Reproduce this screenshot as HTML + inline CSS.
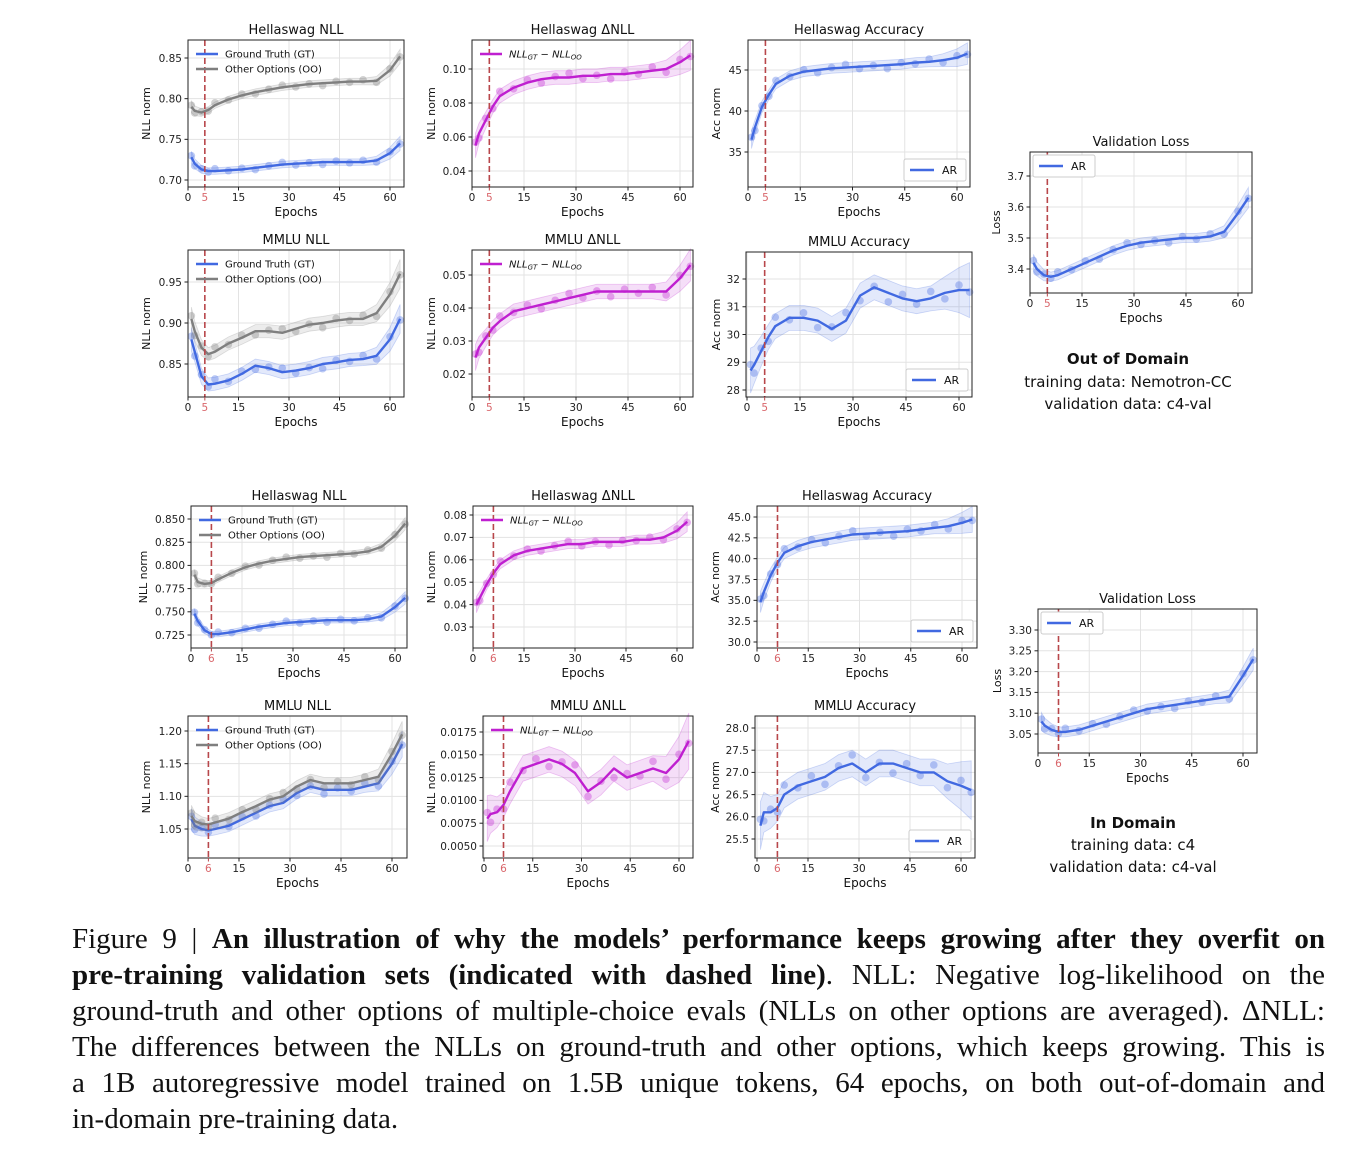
<!DOCTYPE html>
<html><head><meta charset="utf-8">
<style>
html,body{margin:0;padding:0;background:#fff;}
body{width:1352px;height:1156px;position:relative;overflow:hidden;font-family:"DejaVu Sans","Liberation Sans",sans-serif;}
#fig{position:absolute;left:0;top:0;}
.cap{position:absolute;left:72px;width:1253px;font-family:"Liberation Serif",serif;font-size:29px;line-height:36px;color:#111;text-align:justify;text-align-last:justify;white-space:nowrap;}
.cap.last{text-align-last:left;}
</style></head>
<body>
<svg id="fig" width="1352" height="900" xmlns="http://www.w3.org/2000/svg"></svg>
<div class="cap" style="top:921px">Figure 9 | <b>An illustration of why the models’ performance keeps growing after they overfit on</b></div>
<div class="cap" style="top:957px"><b>pre-training validation sets (indicated with dashed line)</b>. NLL: Negative log-likelihood on the</div>
<div class="cap" style="top:993px">ground-truth and other options of multiple-choice evals (NLLs on other options are averaged). ΔNLL:</div>
<div class="cap" style="top:1029px">The differences between the NLLs on ground-truth and other options, which keeps growing. This is</div>
<div class="cap" style="top:1065px">a 1B autoregressive model trained on 1.5B unique tokens, 64 epochs, on both out-of-domain and</div>
<div class="cap last" style="top:1101px">in-domain pre-training data.</div>
<script>
// ---- shared data ----
const epochs = [1,2,4,6,8,12,16,20,24,28,32,36,40,44,48,52,56,60,63];
const jitter = [0.6,-0.8,0.3,-0.4,0.9,-0.2,0.5,-0.7,0.2,0.8,-0.5,0.1,-0.9,0.4,-0.3,0.7,-0.6,0.5,-0.2];
const bandShape = [1.8,1.5,1.2,1,1,1,1,1,1,1,1,1,1,1,1,1,1.3,1.8,2.2];
const xTicks = [0,15,30,45,60];

// ---- out of domain ----
const oodHsNllGT = [.728,.72,.713,.711,.711,.712,.713,.715,.717,.719,.72,.721,.722,.722,.722,.722,.724,.733,.745];
const oodHsNllOO = [.79,.785,.783,.786,.792,.799,.804,.808,.811,.814,.816,.818,.819,.82,.821,.821,.822,.835,.852];
const oodHsNllTicks = [0.85,0.80,0.75,0.70];
const oodHsDelta = [.055,.062,.07,.078,.084,.089,.092,.094,.095,.095,.096,.096,.097,.097,.098,.099,.1,.104,.108];
const oodHsDeltaTicks = [0.10,0.08,0.06,0.04];
const oodHsAcc = [36.5,38,40.5,42,43.3,44.3,44.8,45,45.2,45.3,45.4,45.5,45.6,45.7,45.9,46,46.2,46.5,47];
const oodHsAccTicks = [45,40,35];
const oodVal = [3.42,3.40,3.38,3.375,3.38,3.40,3.42,3.44,3.46,3.475,3.485,3.49,3.495,3.5,3.5,3.505,3.52,3.58,3.63];
const oodValTicks = [3.7,3.6,3.5,3.4];
const oodMmNllGT = [.88,.865,.835,.825,.826,.83,.838,.848,.845,.84,.842,.845,.85,.852,.855,.856,.86,.88,.905];
const oodMmNllOO = [.905,.89,.87,.862,.865,.875,.882,.89,.89,.888,.893,.898,.9,.903,.905,.905,.912,.935,.96];
const oodMmNllTicks = [0.95,0.90,0.85];
const oodMmDelta = [.025,.028,.031,.034,.036,.039,.040,.041,.042,.043,.044,.045,.045,.045,.045,.045,.045,.049,.053];
const oodMmDeltaTicks = [0.05,0.04,0.03,0.02];
const oodMmAcc = [28.7,28.9,29.4,29.9,30.3,30.6,30.6,30.5,30.2,30.5,31.4,31.7,31.5,31.3,31.2,31.3,31.5,31.6,31.6];
const oodMmAccTicks = [32,31,30,29,28];

// ---- in domain ----
const idHsNllGT = [.748,.74,.73,.726,.726,.728,.731,.734,.736,.738,.739,.74,.741,.741,.741,.742,.745,.755,.765];
const idHsNllOO = [.79,.782,.78,.781,.785,.792,.798,.802,.805,.807,.809,.81,.811,.812,.813,.815,.82,.832,.845];
const idHsNllTicks = [0.850,0.825,0.800,0.775,0.750,0.725];
const idHsDelta = [.04,.043,.049,.054,.058,.062,.064,.065,.066,.067,.067,.068,.068,.068,.069,.069,.07,.073,.077];
const idHsDeltaTicks = [0.08,0.07,0.06,0.05,0.04,0.03];
const idHsAcc = [34.8,36,38,39.5,40.7,41.5,42,42.3,42.6,42.9,43,43.1,43.2,43.3,43.5,43.7,43.9,44.3,44.7];
const idHsAccTicks = [45.0,42.5,40.0,37.5,35.0,32.5,30.0];
const idVal = [3.08,3.07,3.06,3.055,3.055,3.06,3.07,3.08,3.09,3.10,3.11,3.115,3.12,3.125,3.13,3.135,3.14,3.19,3.23];
const idValTicks = [3.30,3.25,3.20,3.15,3.10,3.05];
const idMmNllGT = [1.065,1.055,1.05,1.048,1.05,1.055,1.065,1.075,1.085,1.09,1.105,1.115,1.11,1.11,1.11,1.115,1.12,1.15,1.18];
const idMmNllOO = [1.07,1.062,1.058,1.057,1.06,1.066,1.076,1.085,1.095,1.1,1.115,1.125,1.12,1.12,1.12,1.125,1.13,1.165,1.195];
const idMmNllTicks = [1.20,1.15,1.10,1.05];
const idMmDelta = [.008,.0085,.0087,.0095,.011,.0135,.014,.0145,.014,.013,.011,.012,.0135,.0125,.013,.0135,.013,.0145,.0165];
const idMmDeltaTicks = [0.0175,0.0150,0.0125,0.0100,0.0075,0.0050];
const idMmAcc = [25.8,26.1,26.1,26.2,26.5,26.7,26.8,26.9,27.1,27.2,27.0,27.2,27.2,27.1,27.0,27.0,26.8,26.7,26.6];
const idMmAccTicks = [28.0,27.5,27.0,26.5,26.0,25.5];

const NS = "http://www.w3.org/2000/svg";
const svg = document.getElementById('fig');
function mk(tag, attrs, parent){
  const e = document.createElementNS(NS, tag);
  for (const k in attrs) e.setAttribute(k, attrs[k]);
  (parent||svg).appendChild(e);
  return e;
}
const BLUE='#4169e1', GRAY='#7f7f7f', MAG='#bf1fd0', DASH='#b8474b';

function chart(c){
  const g = mk('g', {});
  
  
  const X = e => c.px0 + (c.px60 - c.px0) * e / 60;
  const Y = v => c.t0p + (c.t1p - c.t0p) * (v - c.t0v) / (c.t1v - c.t0v);
  xTicks.forEach(t => {
    const gl = mk('line', {x1:X(t), x2:X(t), y1:c.top, y2:c.bot, stroke:'#e3e3e3', 'stroke-width':1}, g);
    
    
  });
  c.ticks.forEach(t => {
    const gl = mk('line', {x1:c.left, x2:c.right, y1:Y(t), y2:Y(t), stroke:'#e3e3e3', 'stroke-width':1}, g);
    
    
  });
  c.series.forEach(s => {
    const vals = s.vals;
    const up = vals.map((v,i) => [X(epochs[i]), Y(v + c.bw*bandShape[i])]);
    const dn = vals.map((v,i) => [X(epochs[i]), Y(v - c.bw*bandShape[i])]).reverse();
    const band = mk('polygon', {points: up.concat(dn).map(p=>p.join(',')).join(' '), fill:s.color, 'fill-opacity':0.15, stroke:s.color, 'stroke-opacity':0.25, 'stroke-width':0.8}, g);
    
    
    vals.forEach((v,i) => {
      const pt = mk('circle', {cx:X(epochs[i]), cy:Y(v + c.bw*0.8*jitter[i]), r:3.8, fill:s.color, 'fill-opacity':0.35}, g);
      
      
    });
    const ln = mk('polyline', {points: vals.map((v,i)=>X(epochs[i])+','+Y(v)).join(' '), fill:'none', stroke:s.color, 'stroke-width':2.4, 'stroke-linejoin':'round'}, g);
    
    
  });
  const dl = mk('line', {x1:X(c.dash), x2:X(c.dash), y1:c.top, y2:c.bot, stroke:DASH, 'stroke-width':1.6, 'stroke-dasharray':'6,3'}, g);
  
  
  const fr = mk('rect', {x:c.left, y:c.top, width:c.right-c.left, height:c.bot-c.top, fill:'none', stroke:'#222', 'stroke-width':1}, g);
  
  
  xTicks.forEach(t => {
    mk('line', {x1:X(t), x2:X(t), y1:c.bot, y2:c.bot+3.5, stroke:'#222'}, g);
    const tx = mk('text', {x:X(t), y:c.bot+14, 'font-size':10.5, 'text-anchor':'middle', fill:'#222'}, g);
    tx.textContent = t;
    
    
  });
  mk('line', {x1:X(c.dash), x2:X(c.dash), y1:c.bot, y2:c.bot+3.5, stroke:DASH}, g);
  const dt = mk('text', {x:X(c.dash), y:c.bot+14, 'font-size':10.5, 'text-anchor':'middle', fill:'#d9666b'}, g);
  dt.textContent = c.dash;
  
  
  c.ticks.forEach((t,i) => {
    mk('line', {x1:c.left-3.5, x2:c.left, y1:Y(t), y2:Y(t), stroke:'#222'}, g);
    const ty = mk('text', {x:c.left-6, y:Y(t)+3.8, 'font-size':10.5, 'text-anchor':'end', fill:'#222'}, g);
    ty.textContent = c.labels[i];
    
    
  });
  const ti = mk('text', {x:(c.left+c.right)/2, y:c.top-6, 'font-size':13, 'text-anchor':'middle', fill:'#111'}, g);
  ti.textContent = c.title;
  
  
  const xl = mk('text', {x:(c.left+c.right)/2, y:c.bot+29, 'font-size':12, 'text-anchor':'middle', fill:'#111'}, g);
  xl.textContent = 'Epochs';
  
  
  const ym = (c.top+c.bot)/2;
  const yl = mk('text', {x:c.ylx, y:ym, 'font-size':11, 'text-anchor':'middle', fill:'#111', transform:'rotate(-90 '+c.ylx+' '+ym+')'}, g);
  yl.textContent = c.ylabel;
  
  
  const L = c.legend;
  if (L.type === 'gtoo') {
    const lg = mk('g', {}, g);
    
    
    [[BLUE,'Ground Truth (GT)'],[GRAY,'Other Options (OO)']].forEach((e,i) => {
      const yy = c.top + 14 + i*15;
      mk('line', {x1:c.left+8, x2:c.left+30, y1:yy, y2:yy, stroke:e[0], 'stroke-width':2.4}, lg);
      const t = mk('text', {x:c.left+37, y:yy+3.5, 'font-size':10, fill:'#111'}, lg);
      t.textContent = e[1];
      
      
    });
  } else if (L.type === 'delta') {
    const lg = mk('g', {}, g);
    
    
    const yy = c.top + 14;
    mk('line', {x1:c.left+8, x2:c.left+30, y1:yy, y2:yy, stroke:MAG, 'stroke-width':2.4}, lg);
    const t = mk('text', {x:c.left+37, y:yy+3.5, 'font-size':10, 'font-style':'italic', fill:'#111'}, lg);
    t.innerHTML = 'NLL<tspan font-size="7" dy="2">GT</tspan><tspan dy="-2"> − NLL</tspan><tspan font-size="7" dy="2">OO</tspan>';
    
    
  } else {
    const lg = mk('g', {}, g);
    
    
    let bx, by;
    if (L.type === 'ar-br') { bx = c.right - 66; by = c.bot - 28; } else { bx = c.left + 3; by = c.top + 3; }
    mk('rect', {x:bx, y:by, width:62, height:22, fill:'#fff', stroke:'#ccc', rx:2}, lg);
    mk('line', {x1:bx+6, x2:bx+30, y1:by+11, y2:by+11, stroke:BLUE, 'stroke-width':2.4}, lg);
    const t = mk('text', {x:bx+38, y:by+15, 'font-size':11, fill:'#111'}, lg);
    t.textContent = 'AR';
    
    
  }
}

function fmt(arr, d){ return arr.map(v => v.toFixed(d)); }

chart({name:'ood-hellaswag-nll', title:'Hellaswag NLL', ylabel:'NLL norm', left:188, right:404, top:40, bot:187, px0:188, px60:390, ylx:150,
  ticks:oodHsNllTicks, labels:fmt(oodHsNllTicks,2), t0v:0.85, t0p:58, t1v:0.70, t1p:180, dash:5, bw:0.004,
  series:[{key:'gt',vals:oodHsNllGT,color:BLUE},{key:'oo',vals:oodHsNllOO,color:GRAY}], legend:{type:'gtoo'}});
chart({name:'ood-hellaswag-delta-nll', title:'Hellaswag ΔNLL', ylabel:'NLL norm', left:472, right:693, top:40, bot:187, px0:472, px60:680, ylx:435,
  ticks:oodHsDeltaTicks, labels:fmt(oodHsDeltaTicks,2), t0v:0.10, t0p:69, t1v:0.04, t1p:171, dash:5, bw:0.004,
  series:[{key:'delta',vals:oodHsDelta,color:MAG}], legend:{type:'delta'}});
chart({name:'ood-hellaswag-accuracy', title:'Hellaswag Accuracy', ylabel:'Acc norm', left:748, right:970, top:40, bot:187, px0:748, px60:957, ylx:720,
  ticks:oodHsAccTicks, labels:fmt(oodHsAccTicks,0), t0v:45, t0p:70, t1v:35, t1p:152, dash:5, bw:0.6,
  series:[{key:'ar',vals:oodHsAcc,color:BLUE}], legend:{type:'ar-br'}});
chart({name:'ood-validation-loss', title:'Validation Loss', ylabel:'Loss', left:1030, right:1252, top:152, bot:293, px0:1030, px60:1238, ylx:1000,
  ticks:oodValTicks, labels:fmt(oodValTicks,1), t0v:3.7, t0p:176, t1v:3.4, t1p:269, dash:5, bw:0.015,
  series:[{key:'ar',vals:oodVal,color:BLUE}], legend:{type:'ar-tl'}});
chart({name:'ood-mmlu-nll', title:'MMLU NLL', ylabel:'NLL norm', left:188, right:404, top:250, bot:397, px0:188, px60:390, ylx:150,
  ticks:oodMmNllTicks, labels:fmt(oodMmNllTicks,2), t0v:0.95, t0p:282, t1v:0.85, t1p:364, dash:5, bw:0.008,
  series:[{key:'gt',vals:oodMmNllGT,color:BLUE},{key:'oo',vals:oodMmNllOO,color:GRAY}], legend:{type:'gtoo'}});
chart({name:'ood-mmlu-delta-nll', title:'MMLU ΔNLL', ylabel:'NLL norm', left:472, right:693, top:250, bot:397, px0:472, px60:680, ylx:435,
  ticks:oodMmDeltaTicks, labels:fmt(oodMmDeltaTicks,2), t0v:0.05, t0p:275, t1v:0.02, t1p:374, dash:5, bw:0.0022,
  series:[{key:'delta',vals:oodMmDelta,color:MAG}], legend:{type:'delta'}});
chart({name:'ood-mmlu-accuracy', title:'MMLU Accuracy', ylabel:'Acc norm', left:746, right:972, top:252, bot:397, px0:747, px60:959, ylx:720,
  ticks:oodMmAccTicks, labels:fmt(oodMmAccTicks,0), t0v:32, t0p:279, t1v:28, t1p:390, dash:5, bw:0.45,
  series:[{key:'ar',vals:oodMmAcc,color:BLUE}], legend:{type:'ar-br'}});

chart({name:'id-hellaswag-nll', title:'Hellaswag NLL', ylabel:'NLL norm', left:191, right:407, top:506, bot:648, px0:191, px60:395, ylx:147,
  ticks:idHsNllTicks, labels:fmt(idHsNllTicks,3), t0v:0.85, t0p:519, t1v:0.725, t1p:635, dash:6, bw:0.003,
  series:[{key:'gt',vals:idHsNllGT,color:BLUE},{key:'oo',vals:idHsNllOO,color:GRAY}], legend:{type:'gtoo'}});
chart({name:'id-hellaswag-delta-nll', title:'Hellaswag ΔNLL', ylabel:'NLL norm', left:473, right:693, top:506, bot:648, px0:473, px60:677, ylx:435,
  ticks:idHsDeltaTicks, labels:fmt(idHsDeltaTicks,2), t0v:0.08, t0p:515, t1v:0.03, t1p:627, dash:6, bw:0.002,
  series:[{key:'delta',vals:idHsDelta,color:MAG}], legend:{type:'delta'}});
chart({name:'id-hellaswag-accuracy', title:'Hellaswag Accuracy', ylabel:'Acc norm', left:757, right:977, top:506, bot:648, px0:757, px60:962, ylx:719,
  ticks:idHsAccTicks, labels:fmt(idHsAccTicks,1), t0v:45, t0p:517, t1v:30, t1p:642, dash:6, bw:0.7,
  series:[{key:'ar',vals:idHsAcc,color:BLUE}], legend:{type:'ar-br'}});
chart({name:'id-validation-loss', title:'Validation Loss', ylabel:'Loss', left:1038, right:1257, top:609, bot:753, px0:1038, px60:1243, ylx:1001,
  ticks:idValTicks, labels:fmt(idValTicks,2), t0v:3.30, t0p:630, t1v:3.05, t1p:734, dash:6, bw:0.012,
  series:[{key:'ar',vals:idVal,color:BLUE}], legend:{type:'ar-tl'}});
chart({name:'id-mmlu-nll', title:'MMLU NLL', ylabel:'NLL norm', left:188, right:407, top:716, bot:858, px0:188, px60:392, ylx:150,
  ticks:idMmNllTicks, labels:fmt(idMmNllTicks,2), t0v:1.20, t0p:731, t1v:1.05, t1p:829, dash:6, bw:0.009,
  series:[{key:'gt',vals:idMmNllGT,color:BLUE},{key:'oo',vals:idMmNllOO,color:GRAY}], legend:{type:'gtoo'}});
chart({name:'id-mmlu-delta-nll', title:'MMLU ΔNLL', ylabel:'NLL norm', left:483, right:693, top:716, bot:858, px0:484, px60:679, ylx:435,
  ticks:idMmDeltaTicks, labels:fmt(idMmDeltaTicks,4), t0v:0.0175, t0p:732, t1v:0.0050, t1p:846, dash:6, bw:0.0014,
  series:[{key:'delta',vals:idMmDelta,color:MAG}], legend:{type:'delta'}});
chart({name:'id-mmlu-accuracy', title:'MMLU Accuracy', ylabel:'Acc norm', left:755, right:975, top:716, bot:858, px0:757, px60:961, ylx:719,
  ticks:idMmAccTicks, labels:fmt(idMmAccTicks,1), t0v:28, t0p:728, t1v:25.5, t1p:839, dash:6, bw:0.3,
  series:[{key:'ar',vals:idMmAcc,color:BLUE}], legend:{type:'ar-br'}});

function note(x,y,txt,bold,name){
  const t = mk('text', {x:x, y:y, 'font-size':15, 'text-anchor':'middle', fill:'#111', 'font-weight':bold?'bold':'normal'});
  t.textContent = txt;
  
  
}
note(1128,364,'Out of Domain',true,'ood-heading');
note(1128,387,'training data: Nemotron-CC',false,'ood-training-data');
note(1128,409,'validation data: c4-val',false,'ood-validation-data');
note(1133,828,'In Domain',true,'id-heading');
note(1133,850,'training data: c4',false,'id-training-data');
note(1133,872,'validation data: c4-val',false,'id-validation-data');
</script>
</body></html>
